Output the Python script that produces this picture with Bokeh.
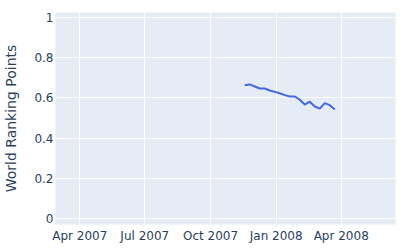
import datetime as dt
from bokeh.plotting import figure
from bokeh.models import FixedTicker, CustomJSTickFormatter, Range1d
from bokeh.embed import file_html
from bokeh.resources import INLINE

# data (weekly)
start_date = dt.datetime(2007, 11, 18)
points = [0.663, 0.667, 0.657, 0.647, 0.647, 0.637, 0.630, 0.623, 0.614, 0.607,
          0.607, 0.591, 0.567, 0.581, 0.557, 0.547, 0.574, 0.564, 0.542]
dates = [start_date + dt.timedelta(days=7 * i) for i in range(len(points))]

x_tick_dates = [dt.datetime(2007, 4, 1), dt.datetime(2007, 7, 1), dt.datetime(2007, 10, 1),
                dt.datetime(2008, 1, 1), dt.datetime(2008, 4, 1)]
x_tick_labels = ["Apr 2007", "Jul 2007", "Oct 2007", "Jan 2008", "Apr 2008"]
y_ticks = [0, 0.2, 0.4, 0.6, 0.8, 1]

def ms(d):
    return (d - dt.datetime(1970, 1, 1)).total_seconds() * 1000

FONT = "DejaVu Sans"
TXT = "#2a3f5f"

p = figure(width=400, height=250, x_axis_type="datetime", output_backend="svg",
           toolbar_location=None,
           x_range=Range1d(ms(dt.datetime(2007, 2, 26)), ms(dt.datetime(2008, 6, 16))),
           y_range=Range1d(-0.03, 1.025),
           min_border_left=55, min_border_right=5, min_border_top=12, min_border_bottom=26)
p.background_fill_color = "#E5ECF6"
p.border_fill_color = "white"
p.outline_line_color = None

p.line(dates, points, line_color="#4169E1", line_width=2)

tick_ms = [ms(d) for d in x_tick_dates]
p.xaxis.ticker = FixedTicker(ticks=tick_ms)
p.xaxis.major_label_overrides = {t: l for t, l in zip(tick_ms, x_tick_labels)}
p.yaxis.ticker = FixedTicker(ticks=y_ticks)
p.yaxis.formatter = CustomJSTickFormatter(code="return tick.toFixed(1).replace(/\\.0$/, '');")

for ax in (p.xaxis[0], p.yaxis[0]):
    ax.axis_line_color = None
    ax.major_tick_line_color = None
    ax.minor_tick_line_color = None
    ax.major_tick_out = 0
    ax.major_tick_in = 0
    ax.minor_tick_out = 0
    ax.major_label_text_font = FONT
    ax.major_label_text_font_size = "12px"
    ax.major_label_text_color = TXT

p.xaxis.major_label_standoff = 4
p.yaxis.major_label_standoff = 2
p.yaxis.axis_label = "World Ranking Points"
p.yaxis.axis_label_text_font = FONT
p.yaxis.axis_label_text_font_size = "14px"
p.yaxis.axis_label_text_font_style = "normal"
p.yaxis.axis_label_text_color = TXT
p.yaxis.axis_label_standoff = 12

p.xgrid.grid_line_color = "white"
p.ygrid.grid_line_color = "white"
p.xgrid.grid_line_width = 1
p.ygrid.grid_line_width = 1

open("out.html", "w").write(file_html(p, INLINE))
